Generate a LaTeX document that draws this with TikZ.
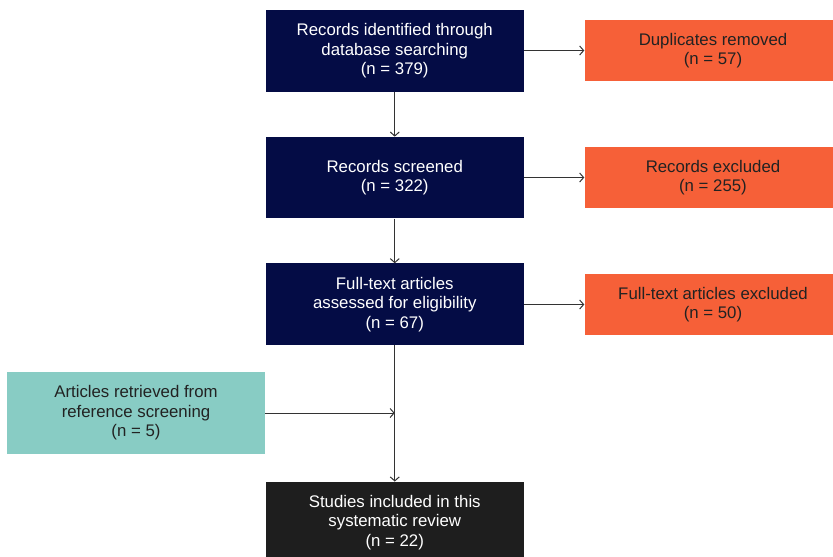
\documentclass[tikz,border=0pt]{standalone}
\usepackage{fontspec}
\setmainfont{Liberation Sans}
\usetikzlibrary{arrows.meta}
\definecolor{navy}{HTML}{040C45}
\definecolor{orng}{HTML}{F66038}
\definecolor{teal2}{HTML}{88CCC4}
\definecolor{blk}{HTML}{1E1E1E}
\definecolor{txtdark}{HTML}{222222}
\tikzset{
  box/.style={draw=none, align=center, inner sep=0pt, font=\fontsize{16.8}{19.5}\selectfont},
  mainbox/.style={box, fill=navy, text=white, minimum width=258pt, minimum height=81.5pt},
  sidebox/.style={box, fill=orng, text=txtdark, minimum width=257pt, minimum height=61pt},
  arr/.style={-{Straight Barb[length=4pt,width=9pt]}, draw=black!80, line width=1pt},
}
\begin{document}
\begin{tikzpicture}[x=1pt,y=-1pt]
\useasboundingbox (0,0) rectangle (833,557);
\node[mainbox] (b1) at (394.75,50.75) {Records identified through\\database searching\\(n = 379)};
\node[mainbox] (b2) at (394.75,177.6) {Records screened\\(n = 322)};
\node[mainbox] (b3) at (394.75,304.2) {Full-text articles\\assessed for eligibility\\(n = 67)};
\node[box, fill=blk, text=white, minimum width=258pt, minimum height=81.5pt] (b5) at (394.75,522.5) {Studies included in this\\systematic review\\(n = 22)};
\node[sidebox] (o1) at (713,50.5) {Duplicates removed\\(n = 57)};
\node[sidebox] (o2) at (713,177.5) {Records excluded\\(n = 255)};
\node[sidebox] (o3) at (713,304.5) {Full-text articles excluded\\(n = 50)};
\node[box, fill=teal2, text=txtdark, minimum width=258pt, minimum height=82pt] (t) at (136,413) {Articles retrieved from\\reference screening\\(n = 5)};
\coordinate (m) at (394.75,413);
\draw[arr] (b1) -- (b2);
\draw[arr] (b2) -- (b3);
\draw[arr] (b3) -- (b5);
\draw[arr] (b1.east |- o1) -- (o1.west);
\draw[arr] (b2.east |- o2) -- (o2.west);
\draw[arr] (b3.east |- o3) -- (o3.west);
\draw[arr] (t.east) -- (m);
\end{tikzpicture}
\end{document}
